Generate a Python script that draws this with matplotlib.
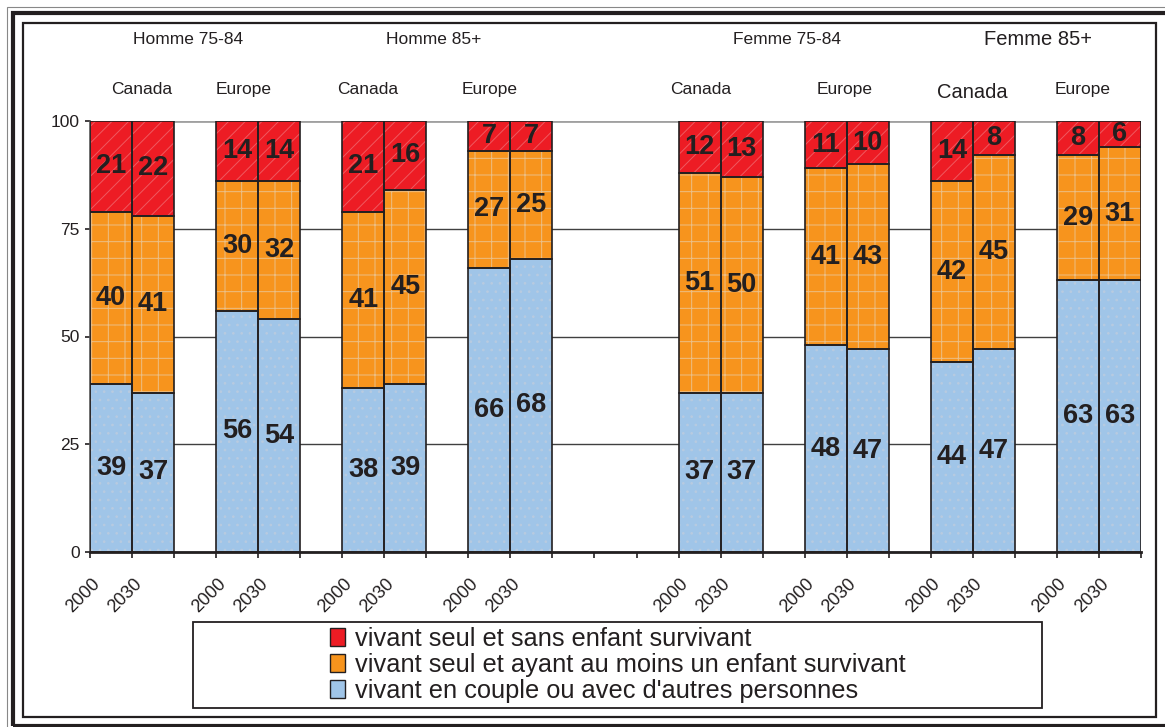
import matplotlib.pyplot as plt
from matplotlib.patches import Patch, Rectangle
from matplotlib.transforms import ScaledTranslation

plt.rcParams['font.family'] = ['Liberation Sans', 'DejaVu Sans']
plt.rcParams['hatch.linewidth'] = 0.7

# donnees (en %)
annees = ['2000', '2030'] * 8
regions = ['Canada', 'Europe'] * 4
groupes = ['Homme 75-84', 'Homme 85+', 'Femme 75-84', 'Femme 85+']
pos = [0, 1, 3, 4, 6, 7, 9, 10, 14, 15, 17, 18, 20, 21, 23, 24]

couple = [39, 37, 56, 54, 38, 39, 66, 68, 37, 37, 48, 47, 44, 47, 63, 63]
seul_enfant = [40, 41, 30, 32, 41, 45, 27, 25, 51, 50, 41, 43, 42, 45, 29, 31]
seul_sans = [21, 22, 14, 14, 21, 16, 7, 7, 12, 13, 11, 10, 14, 8, 8, 6]

noms = ['vivant seul et sans enfant survivant',
        'vivant seul et ayant au moins un enfant survivant',
        "vivant en couple ou avec d'autres personnes"]

sombre = '#231f20'
rouge, orange, bleu = '#ed1c24', '#f7941d', '#a0c5e8'

W, H = 1165, 727
fig = plt.figure(figsize=(W / 100, H / 100), dpi=100)
ax = fig.add_axes([90 / W, 175 / H, 1051 / W, 431 / H])

# barres empilees : couple -> seul avec enfant -> seul sans enfant
series = [(couple, bleu, '#b8cbe0', '..'),
          (seul_enfant, orange, '#ecbf86', '+'),
          (seul_sans, rouge, '#ef5a60', '//')]
base = [0] * len(pos)
for vals, col, hcol, hatch in series:
    ax.bar(pos, vals, 1.0, bottom=base, color=col, edgecolor=hcol, hatch=hatch,
           linewidth=0, zorder=2)
    ax.bar(pos, vals, 1.0, bottom=base, facecolor='none', edgecolor=sombre,
           linewidth=1.2, zorder=3)
    for x, v, b in zip(pos, vals, base):
        ax.text(x, b + v / 2, str(v), ha='center', va='center', fontsize=19.5,
                fontweight='bold', color=sombre, zorder=4)
    base = [b + v for b, v in zip(base, vals)]

ax.set_xlim(-0.5, 24.5)
ax.set_ylim(0, 100)
ax.set_yticks([0, 25, 50, 75, 100])
ax.yaxis.grid(True, color='#404040', linewidth=1)
ax.set_axisbelow(True)
gl = ax.get_ygridlines()
gl[-1].set_color('#a0a0a0')
gl[-1].set_linewidth(2)

# ticks aux limites des cases, annees sous les barres
bornes = [i - 0.5 for i in range(26)]
ax.set_xticks(bornes, labels=[''] * len(bornes))
ax.set_xticks(pos, labels=annees, minor=True)
ax.tick_params(axis='x', which='major', length=4.5, width=1.2, color=sombre)
ax.tick_params(axis='x', which='minor', length=0, pad=16.5, labelsize=13,
               labelcolor=sombre)
ax.tick_params(axis='y', length=3.5, width=1.2, color=sombre, labelsize=12.5,
               labelcolor=sombre, pad=4)
decal = ScaledTranslation(-0.08, 0, fig.dpi_scale_trans)
for lab in ax.get_xticklabels(minor=True):
    lab.set_rotation(45)
    lab.set_ha('right')
    lab.set_va('top')
    lab.set_transform(lab.get_transform() + decal)

for s in ['top', 'right']:
    ax.spines[s].set_visible(False)
ax.spines['bottom'].set_linewidth(2)
ax.spines['bottom'].set_color(sombre)
ax.spines['left'].set_linewidth(1.2)
ax.spines['left'].set_color('#555555')

# titres des groupes
centres = [(pos[2 * i] + pos[2 * i + 1]) / 2 for i in range(8)]
dx_reg = [0.22, -0.34, -0.39, -0.49, -0.47, -0.04, -0.02, -0.4]
for i, nom in enumerate(regions):
    grand = (i == 6)
    ax.text(centres[i] + dx_reg[i], 106.5 if grand else 107.2, nom, ha='center',
            va='center', fontsize=14.5 if grand else 12.5, color=sombre)
dx_grp = [-0.17, -0.32, 0.08, 0.05]
for i, nom in enumerate(groupes):
    xc = (centres[2 * i] + centres[2 * i + 1]) / 2 + dx_grp[i]
    ax.text(xc, 118.8, nom, ha='center', va='center',
            fontsize=14.5 if i == 3 else 12.5, color=sombre)

# legende
poignees = [Patch(facecolor=c, edgecolor=sombre, linewidth=1)
            for c in [rouge, orange, bleu]]
leg = fig.legend(poignees, noms, loc='center',
                 bbox_to_anchor=(618 / W, 1 - 665 / H), frameon=False,
                 fontsize=18.3, handlelength=0.6, handleheight=0.7,
                 handletextpad=0.4, labelspacing=0.08, borderpad=0)
for t in leg.get_texts():
    t.set_color(sombre)
fig.add_artist(Rectangle((193 / W, 1 - 708 / H), (1042 - 193) / W, (708 - 622) / H,
                         transform=fig.transFigure, fill=False,
                         edgecolor=sombre, linewidth=1.3))

# cadres
fig.add_artist(Rectangle((22.5 / W, 1 - 717 / H), (1156 - 22.5) / W, (717 - 22.5) / H,
                         transform=fig.transFigure, fill=False,
                         edgecolor=sombre, linewidth=1.6))
fig.add_artist(Rectangle((12.5 / W, 1 - 725.5 / H), 1.05, (725.5 - 12.5) / H,
                         transform=fig.transFigure, fill=False,
                         edgecolor=sombre, linewidth=3))
fig.add_artist(Rectangle((7 / W, -0.05), 1.05, 1.05 - 7 / H,
                         transform=fig.transFigure, fill=False,
                         edgecolor='#888888', linewidth=0.8))

fig.savefig('out.png', dpi=100)
